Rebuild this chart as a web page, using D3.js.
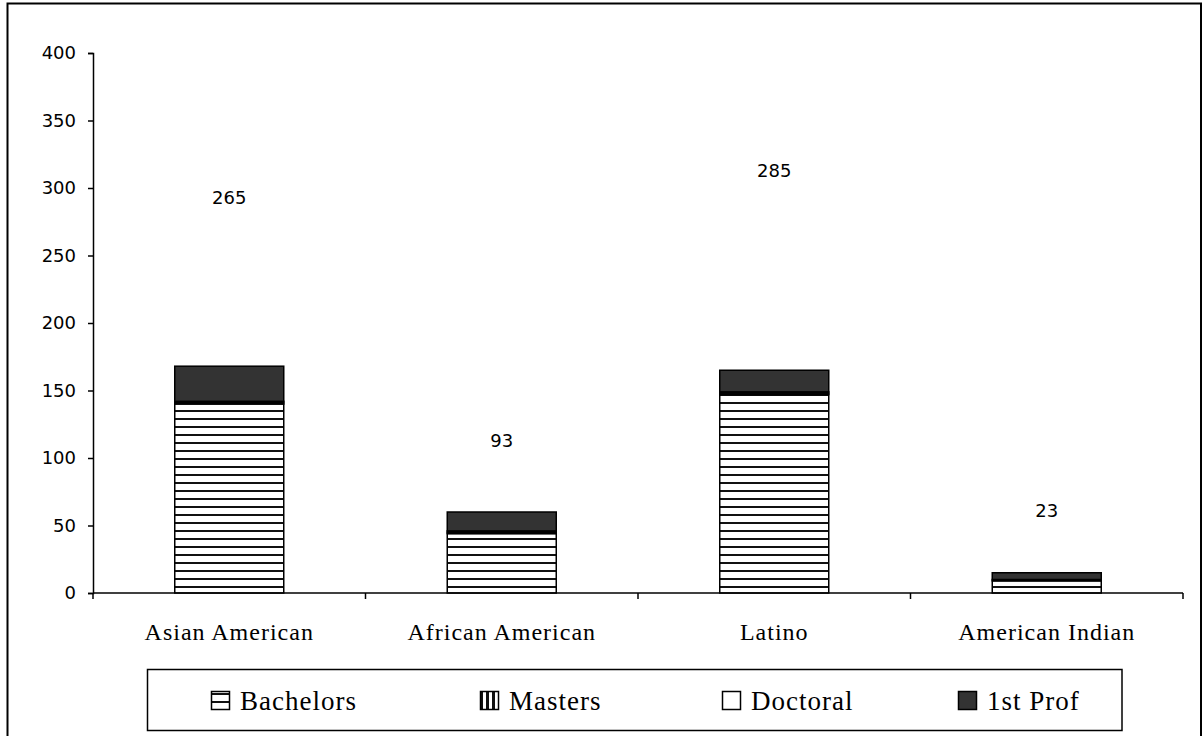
<!DOCTYPE html>
<html>
<head>
<meta charset="utf-8">
<script src="https://cdn.jsdelivr.net/npm/d3@7"></script>
<style>
  html, body { margin: 0; padding: 0; background: #fff; }
  svg { display: block; }
</style>
</head>
<body>
<script>
// Degrees by group, stacked by level
const categories = ["Asian American", "African American", "Latino", "American Indian"];
const seriesNames = ["Bachelors", "Masters", "Doctoral", "1st Prof"];
const bachelors = [140, 44, 147, 9];
const masters   = [1, 1, 1, 1];
const doctoral  = [1, 1, 1, 0];
const firstProf = [26, 14, 16, 5];
// Group totals printed above each column, and the axis level they sit at
const totals      = [265, 93, 285, 23];
const totalLevels = [293, 113, 313, 61];
const yTicks = [0, 50, 100, 150, 200, 250, 300, 350, 400];

const W = 1204, H = 736;
const plot = { left: 93, right: 1183, top: 53, bottom: 593 };

const svg = d3.select("body").append("svg")
  .attr("width", W).attr("height", H);

// Fill patterns for the bar segments
const defs = svg.append("defs");
const hpat = defs.append("pattern").attr("id", "pat-bach")
  .attr("patternUnits", "userSpaceOnUse").attr("width", 8).attr("height", 8);
hpat.append("rect").attr("width", 8).attr("height", 8).attr("fill", "#fff");
hpat.append("rect").attr("y", 2).attr("width", 8).attr("height", 2).attr("fill", "#111");

const vpat = defs.append("pattern").attr("id", "pat-mast")
  .attr("patternUnits", "userSpaceOnUse").attr("width", 6).attr("height", 6);
vpat.append("rect").attr("width", 6).attr("height", 6).attr("fill", "#fff");
vpat.append("rect").attr("x", 0).attr("width", 3).attr("height", 6).attr("fill", "#111");

const fills = ["url(#pat-bach)", "url(#pat-mast)", "#ffffff", "#333333"];

// Outer frame
svg.append("rect")
  .attr("x", 7.5).attr("y", 3.5)
  .attr("width", 1201 - 7.5).attr("height", 760)
  .attr("fill", "none").attr("stroke", "#000").attr("stroke-width", 2);

const x = d3.scaleBand().domain(categories).range([plot.left, plot.right]).padding(0);
const y = d3.scaleLinear().domain([0, 400]).range([plot.bottom, plot.top]);
const barW = x.bandwidth() / 2.5;

// Stack the four levels
const rows = categories.map((c, i) => ({
  cat: c,
  Bachelors: bachelors[i], Masters: masters[i], Doctoral: doctoral[i], "1st Prof": firstProf[i]
}));
const stacked = d3.stack().keys(seriesNames)(rows);

const barsG = svg.append("g");
stacked.forEach((layer, si) => {
  barsG.selectAll(null).data(layer).enter().append("rect")
    .attr("x", d => x(d.data.cat) + (x.bandwidth() - barW) / 2)
    .attr("y", d => y(d[1]))
    .attr("width", barW)
    .attr("height", d => Math.max(0, y(d[0]) - y(d[1])))
    .attr("fill", fills[si])
    .attr("stroke", "#000")
    .attr("stroke-width", 1.5);
});

// Y axis
const yAxis = d3.axisLeft(y).tickValues(yTicks).tickSize(5).tickPadding(12);
const yg = svg.append("g").attr("transform", `translate(${plot.left},0)`).call(yAxis);
yg.select(".domain").attr("stroke", "#000").attr("stroke-width", 1.5);
yg.selectAll(".tick line").attr("stroke", "#000").attr("stroke-width", 1.5);
yg.selectAll(".tick text")
  .attr("font-family", "'DejaVu Sans', sans-serif").attr("font-size", 18)
  .attr("fill", "#000");

// X axis with ticks at the category boundaries
const boundaries = d3.range(categories.length + 1).map(i => plot.left + i * x.step());
svg.append("line")
  .attr("x1", plot.left).attr("x2", plot.right)
  .attr("y1", plot.bottom).attr("y2", plot.bottom)
  .attr("stroke", "#000").attr("stroke-width", 1.5);
svg.selectAll(null).data(boundaries).enter().append("line")
  .attr("x1", d => d).attr("x2", d => d)
  .attr("y1", plot.bottom).attr("y2", plot.bottom + 6)
  .attr("stroke", "#000").attr("stroke-width", 1.5);
svg.selectAll(null).data(categories).enter().append("text")
  .attr("x", d => x(d) + x.bandwidth() / 2)
  .attr("y", 632)
  .attr("dy", "0.35em")
  .attr("text-anchor", "middle")
  .attr("font-family", "'Liberation Serif', serif")
  .attr("font-size", 24)
  .attr("letter-spacing", 1)
  .text(d => d);

// Total labels
svg.selectAll(null).data(categories).enter().append("text")
  .attr("x", d => x(d) + x.bandwidth() / 2)
  .attr("y", (d, i) => y(totalLevels[i]))
  .attr("dy", "0.36em")
  .attr("text-anchor", "middle")
  .attr("font-family", "'DejaVu Sans', sans-serif")
  .attr("font-size", 18)
  .text((d, i) => totals[i]);

// Legend
const legend = svg.append("g");
legend.append("rect")
  .attr("x", 147.5).attr("y", 669.5)
  .attr("width", 1122 - 147.5).attr("height", 61)
  .attr("fill", "#fff").attr("stroke", "#000").attr("stroke-width", 1.5);
const itemX = [211, 480, 722, 958];
seriesNames.forEach((name, i) => {
  const g = legend.append("g").attr("transform", `translate(${itemX[i]},691)`);
  g.append("rect").attr("x", 0.5).attr("y", 0.5).attr("width", 18).attr("height", 18)
    .attr("fill", fills[i]).attr("stroke", "#000").attr("stroke-width", 1.5);
  g.append("text")
    .attr("x", 29).attr("y", 10).attr("dy", "0.35em")
    .attr("font-family", "'Liberation Serif', serif")
    .attr("font-size", 27)
    .attr("letter-spacing", 1)
    .text(name);
});
</script>
</body>
</html>
